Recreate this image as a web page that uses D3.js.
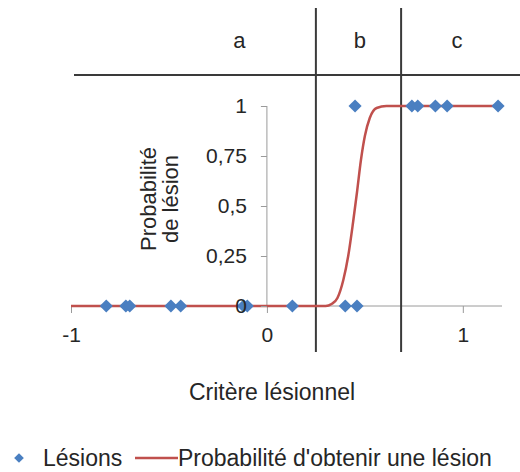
<!DOCTYPE html>
<html>
<head>
<meta charset="utf-8">
<script src="https://cdn.jsdelivr.net/npm/d3@7"></script>
<style>
  body { margin: 0; background: #fff; }
  svg { font-family: "Liberation Sans", Arial, sans-serif; }
</style>
</head>
<body>
<div id="chart"></div>
<script>
// lesion points (criterion value, observed outcome 0/1)
const lesionX = [-0.82, -0.72, -0.70, -0.49, -0.44, -0.12, -0.10, 0.13, 0.40, 0.46, 0.45, 0.74, 0.77, 0.86, 0.92, 1.18]
const lesionY = [0, 0, 0, 0, 0, 0, 0, 0, 0, 0, 1, 1, 1, 1, 1, 1]

// probability curve
const curveX = [-1, 0.30, 0.33, 0.36, 0.39, 0.415, 0.44, 0.46, 0.48, 0.50, 0.525, 0.56, 0.61, 1.2]
const curveP = [0, 0, 0.01, 0.04, 0.13, 0.25, 0.42, 0.57, 0.73, 0.85, 0.94, 0.99, 1, 1]

// zone boundaries and labels
const zoneBounds = [0.25, 0.685]
const zoneLabels = ['a', 'b', 'c']
const zoneCenters = [-0.14, 0.475, 0.97]

const xTicks = [-1, 0, 1]
const yTicks = [0, 0.25, 0.5, 0.75, 1]

const width = 520, height = 472
const blue = '#4a7fc1', red = '#c0504d', axisGray = '#9a9a9a', ink = '#262626'

const x = d3.scaleLinear().domain([-1, 1.2]).range([71, 502])
const y = d3.scaleLinear().domain([0, 1]).range([306, 106])

const svg = d3.select('#chart').append('svg')
  .attr('width', width)
  .attr('height', height)

// x axis
const xAxis = svg.append('g')
  .attr('transform', `translate(0,${y(0)})`)
  .call(d3.axisBottom(x).tickValues(xTicks).tickSize(7).tickPadding(14)
    .tickFormat(d3.format('d')))
xAxis.select('.domain').attr('stroke', axisGray).attr('d', `M${x(-1)},0H${x(1.2)}`)
xAxis.selectAll('.tick line').attr('stroke', axisGray)
xAxis.selectAll('.tick text').attr('fill', ink).attr('font-size', 21)
  .text(d => d < 0 ? '-' + Math.abs(d) : d)

// y axis
const yAxis = svg.append('g')
  .attr('transform', `translate(${x(0)},0)`)
  .call(d3.axisLeft(y).tickValues(yTicks).tickSizeInner(6).tickSizeOuter(0).tickPadding(14)
    .tickFormat(d => String(d).replace('.', ',')))
yAxis.select('.domain').attr('stroke', axisGray)
yAxis.selectAll('.tick line').attr('stroke', axisGray)
yAxis.selectAll('.tick text').attr('fill', ink).attr('font-size', 21)

// zone separators
svg.append('line')
  .attr('x1', 74).attr('x2', width)
  .attr('y1', 75).attr('y2', 75)
  .attr('stroke', '#3a3a3a').attr('stroke-width', 2)
svg.selectAll('.zone')
  .data(zoneBounds)
  .enter().append('line')
  .attr('x1', d => x(d)).attr('x2', d => x(d))
  .attr('y1', 8).attr('y2', 352)
  .attr('stroke', '#3a3a3a').attr('stroke-width', 2)
svg.selectAll('.zoneLabel')
  .data(zoneLabels)
  .enter().append('text')
  .attr('x', (d, i) => x(zoneCenters[i]))
  .attr('y', 40)
  .attr('dy', '0.35em')
  .attr('text-anchor', 'middle')
  .attr('font-size', 22)
  .attr('fill', ink)
  .text(d => d)

// probability curve
const line = d3.line()
  .x(d => x(d[0]))
  .y(d => y(d[1]))
  .curve(d3.curveMonotoneX)
svg.append('path')
  .datum(curveX.map((d, i) => [d, curveP[i]]))
  .attr('d', line)
  .attr('fill', 'none')
  .attr('stroke', red)
  .attr('stroke-width', 2.5)

// lesion diamonds
const diamond = d3.symbol().type(d3.symbolDiamond2).size(110)
svg.selectAll('.pt')
  .data(lesionX.map((d, i) => [d, lesionY[i]]))
  .enter().append('path')
  .attr('transform', d => `translate(${x(d[0])},${y(d[1])})`)
  .attr('d', diamond)
  .attr('fill', blue)

// bring y tick labels on top
yAxis.raise()
yAxis.select('.domain').remove()
svg.append('line')
  .attr('x1', x(0)).attr('x2', x(0)).attr('y1', y(1)).attr('y2', y(0))
  .attr('stroke', axisGray)
  .lower()

// y axis title
const yTitle = svg.append('text')
  .attr('transform', 'translate(159,199) rotate(-90)')
  .attr('text-anchor', 'middle')
  .attr('font-size', 22)
  .attr('fill', ink)
yTitle.append('tspan').attr('x', 0).attr('dy', '-0.15em').text('Probabilité')
yTitle.append('tspan').attr('x', 0).attr('dy', '1.0em').text('de lésion')

// x axis title
svg.append('text')
  .attr('x', 272).attr('y', 392)
  .attr('dy', '0.35em')
  .attr('text-anchor', 'middle')
  .attr('font-size', 23)
  .attr('fill', ink)
  .text('Critère lésionnel')

// legend
const legend = svg.append('g').attr('transform', 'translate(0,458)')
legend.append('path')
  .attr('transform', 'translate(19,0)')
  .attr('d', d3.symbol().type(d3.symbolDiamond2).size(60))
  .attr('fill', blue)
legend.append('text')
  .attr('x', 43).attr('dy', '0.35em')
  .attr('font-size', 23).attr('fill', ink)
  .text('Lésions')
legend.append('line')
  .attr('x1', 135).attr('x2', 178)
  .attr('stroke', red).attr('stroke-width', 2.5)
legend.append('text')
  .attr('x', 178).attr('dy', '0.35em')
  .attr('font-size', 23).attr('fill', ink)
  .text("Probabilité d'obtenir une lésion")
</script>
</body>
</html>
